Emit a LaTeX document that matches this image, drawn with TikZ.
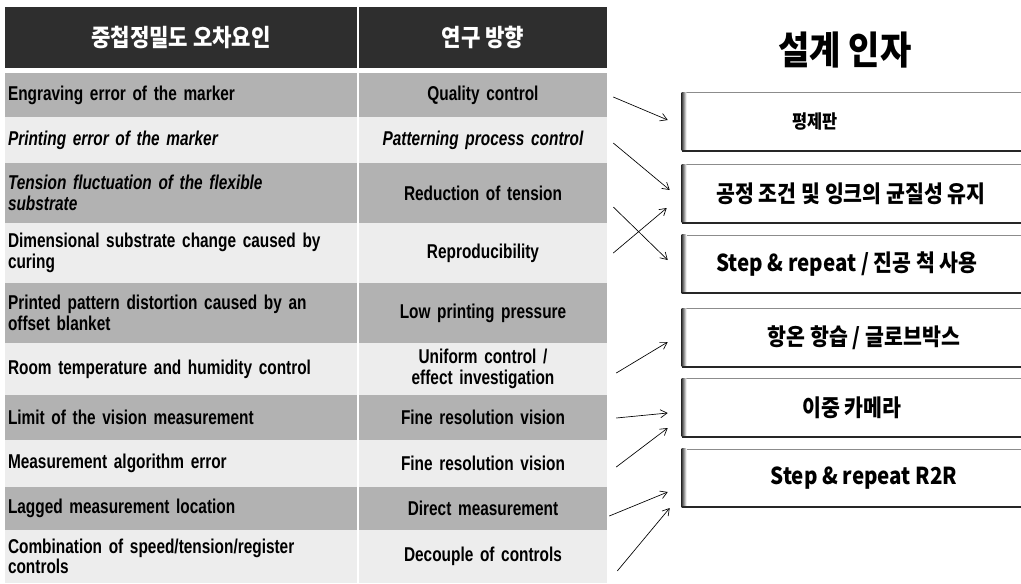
\documentclass[tikz,border=0pt]{standalone}
\usepackage{fontspec}
\usepackage{tikz}
\usetikzlibrary{calc}
\usetikzlibrary{arrows.meta}
\newfontfamily\tabfont[FakeStretch=0.77,WordSpace=0.5]{Liberation Sans}
\newfontfamily\krfont[FakeStretch=0.88]{Noto Sans CJK KR}

\begin{document}
\begin{tikzpicture}[x=0.75pt,y=0.75pt,yscale=-1,xscale=1,
	head/.style={fill=black!82, text=white, minimum width=264pt, minimum height=45.75pt, inner sep=0pt, font=\krfont\bfseries\fontsize{18}{20}\selectfont},
	headR/.style={head, minimum width=186pt},
	cellL/.style={minimum width=264pt, text width=259.5pt, inner xsep=2.25pt, inner ysep=0pt, align=left, font=\tabfont\bfseries\fontsize{15}{15.5}\selectfont},
	cellR/.style={cellL, minimum width=186pt, text width=181.5pt, align=center},
	darkrow/.style={fill=black!30},
	lightrow/.style={fill=black!7},
	factor/.style={draw=black!45, line width=0.4pt, fill=white, minimum width=268.5pt, minimum height=43.5pt, inner sep=0pt},
	factortext/.style={font=\krfont\bfseries\fontsize{17.5}{20}\selectfont},
	arr/.style={-{Straight Barb[length=5pt,width=6pt]}, line width=0.5pt}]
	\useasboundingbox (0,0) rectangle (1021,583);
	\clip (0,0) rectangle (1021,583);

	%Table header
	\node [head] (h1) at (181,37.5) {중첩정밀도 오차요인};
	\node [headR] (h2) at (483,37.5) {연구 방향};

	%Table rows
	\node [cellL, darkrow, minimum height=33pt] (f1) at (181,95) {Engraving error of the marker};
	\node [cellR, darkrow, minimum height=33pt] (q1) at (483,95) {Quality control};
	\node [cellL, lightrow, minimum height=34.5pt] (f2) at (181,140) {\itshape Printing error of the marker};
	\node [cellR, lightrow, minimum height=34.5pt] (q2) at (483,140) {\itshape Patterning process control};
	\node [cellL, darkrow, minimum height=45pt] (f3) at (181,193) {\itshape Tension fluctuation of the flexible\\substrate};
	\node [cellR, darkrow, minimum height=45pt] (q3) at (483,193) {Reduction of tension};
	\node [cellL, lightrow, minimum height=45pt] (f4) at (181,253) {Dimensional substrate change caused by\\curing};
	\node [cellR, lightrow, minimum height=45pt] (q4) at (483,253) {Reproducibility};
	\node [cellL, darkrow, minimum height=45pt] (f5) at (181,313) {Printed pattern distortion caused by an\\offset blanket};
	\node [cellR, darkrow, minimum height=45pt] (q5) at (483,313) {Low printing pressure};
	\node [cellL, lightrow, minimum height=39pt] (f6) at (181,369) {Room temperature and humidity control};
	\node [cellR, lightrow, minimum height=39pt] (q6) at (483,369) {Uniform control /\\effect investigation};
	\node [cellL, darkrow, minimum height=33.75pt] (f7) at (181,417.5) {Limit of the vision measurement};
	\node [cellR, darkrow, minimum height=33.75pt] (q7) at (483,417.5) {Fine resolution vision};
	\node [cellL, lightrow, minimum height=35.25pt] (f8) at (181,463.5) {Measurement algorithm error};
	\node [cellR, lightrow, minimum height=35.25pt] (q8) at (483,463.5) {Fine resolution vision};
	\node [cellL, darkrow, minimum height=32.25pt] (f9) at (181,508.5) {Lagged measurement location};
	\node [cellR, darkrow, minimum height=32.25pt] (q9) at (483,508.5) {Direct measurement};
	\node [cellL, lightrow, minimum height=39.75pt] (f10) at (181,556.5) {Combination of speed/tension/register\\controls};
	\node [cellR, lightrow, minimum height=39.75pt] (q10) at (483,556.5) {Decouple of controls};

	% Text Node
	\node [font=\krfont\bfseries\fontsize{29}{32}\selectfont] (ttl) at (845,50) {설계 인자};

	%Shape: Rectangle
	\node [factor] (b1) at (861,121.5) {};
	\node [factor] (b2) at (861,193.5) {};
	\node [factor] (b3) at (861,264) {};
	\node [factor] (b4) at (861,337.5) {};
	\node [factor] (b5) at (861,407.5) {};
	\node [factor] (b6) at (861,478) {};
	\foreach \b in {b1,b2,b3,b4,b5,b6} {
		\fill [left color=black!75, right color=white] (\b.south west) rectangle ([xshift=3.5pt]\b.north west);
		\draw [black!85, line width=1.2pt] (\b.south west) -- (\b.south east);
	}

	% Text Node
	\node [factortext, font=\krfont\bfseries\fontsize{14}{16}\selectfont] (t1) at (815,121.5) {평제판};
	\node [factortext] (t2) at (851,193.5) {공정 조건 및 잉크의 균질성 유지};
	\node [factortext] (t3) at (847,264) {Step \& repeat / 진공 척 사용};
	\node [factortext] (t4) at (864,337.5) {항온 항습 / 글로브박스};
	\node [factortext] (t5) at (852,407.5) {이중 카메라};
	\node [factortext] (t6) at (864,478) {Step \& repeat R2R};

	%Straight Lines
	\draw [arr] ($(q1.east)+(6,2)$) -- ($(b1.west)+(-14,-1.5)$);
	\draw [arr] ($(q2.east)+(6,3)$) -- ($(b2.west)+(-12,-3.5)$);
	\draw [arr] ($(q3.east)+(6,14)$) -- ($(b3.west)+(-14,-4)$);
	\draw [arr] ($(q4.east)+(6,0)$) -- ($(b2.west)+(-15,14.5)$);
	\draw [arr] ($(q6.east)+(9,4)$) -- ($(b4.west)+(-14,4.5)$);
	\draw [arr] ($(q7.east)+(9,0.5)$) -- ($(b5.west)+(-14,5.5)$);
	\draw [arr] ($(q8.east)+(9,3.5)$) -- ($(b5.west)+(-14,20.5)$);
	\draw [arr] ($(q9.east)+(2,7.5)$) -- ($(b6.west)+(-14,14)$);
	\draw [arr] ($(q10.east)+(10,14.5)$) -- ($(b6.west)+(-12,30)$);

\end{tikzpicture}
\end{document}
